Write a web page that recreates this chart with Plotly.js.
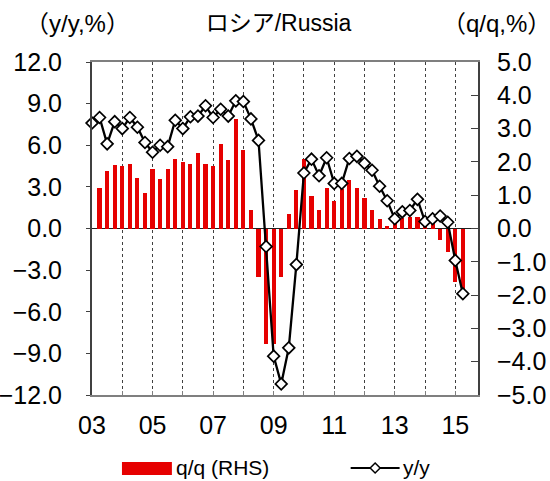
<!DOCTYPE html>
<html>
<head>
<meta charset="utf-8">
<script src="https://cdn.plot.ly/plotly-3.0.1.min.js"></script>
<style>html,body{margin:0;padding:0;background:#fff;}#chart{width:550px;height:481px;}</style>
</head>
<body>
<div id="chart"></div>
<script>
// Quarters on the axis: 2003Q1 .. 2015Q4
const years = [2003,2004,2005,2006,2007,2008,2009,2010,2011,2012,2013,2014,2015];
const quarterNames = ['Q1','Q2','Q3','Q4'];
const quarters = [];
years.forEach(y => quarterNames.forEach(q => quarters.push(y + q)));

// Data quarters 2003Q1 .. 2015Q2
const dataQuarters = quarters.slice(0, 50);

// y/y growth (%), left axis
const yoy = [
  7.6, 8.0, 6.1, 7.7,
  7.2, 8.0, 7.3, 6.2,
  5.5, 6.0, 5.9, 7.8,
  7.2, 8.05, 8.1, 8.85,
  8.0, 8.6, 8.1, 9.2,
  9.15, 7.9, 6.35, -1.3,
  -9.2, -11.2, -8.6, -2.6,
  4.0, 5.0, 3.8, 5.1,
  3.25, 3.25, 5.05, 5.2,
  4.7, 4.2, 3.05, 2.0,
  0.7, 1.2, 1.3, 2.1,
  0.5, 0.7, 0.9, 0.45,
  -2.3, -4.7
];

// q/q growth (%), right axis
const qoq = [
  null, 1.22, 1.74, 1.90,
  1.87, 1.93, 1.53, 1.08,
  1.78, 1.50, 1.79, 2.08,
  1.99, 1.93, 2.28, 1.94,
  1.89, 2.53, 2.06, 3.28,
  2.35, 0.57, -1.47, -3.47,
  -3.47, -1.47, 0.43, 1.17,
  2.10, 0.98, 0.57, 1.22,
  0.83, 1.18, 1.47, 1.22,
  0.93, 0.55, 0.30, 0.07,
  0.30, 0.33, 0.35, 0.34,
  0.12, 0.18, -0.35, -0.72,
  -1.62, -1.9
];

// x tick labels (one gridline per year, label every second year)
const yearTickVals = years.map(y => y + 'Q1');
const yearTickText = ['03','','05','','07','','09','','11','','13','','15'];

const FONT = 'Liberation Sans, Arial, Noto Sans CJK JP, sans-serif';

const traces = [
  {
    type: 'bar', name: 'q/q (RHS)', x: dataQuarters, y: qoq,
    xaxis: 'x', yaxis: 'y',
    marker: {color: '#e60000', line: {width: 0}},
    width: 0.55, showlegend: false, hoverinfo: 'skip'
  },
  {
    type: 'scatter', mode: 'lines+markers', name: 'y/y', x: dataQuarters, y: yoy,
    xaxis: 'x', yaxis: 'y2',
    line: {color: '#000000', width: 2.3},
    marker: {symbol: 'diamond', size: 9, color: '#ffffff', line: {color: '#000000', width: 1.7}},
    showlegend: false, hoverinfo: 'skip', cliponaxis: false
  }
];

// plot area in pixels
const L = 92, R = 478.5, T = 61.7, B = 395;
const PW = R - L, PH = B - T;
const px = v => (v - L) / PW;
const py = v => (B - v) / PH;

const layout = {
  width: 550, height: 481,
  margin: {l: L, r: 550 - R, t: T, b: 481 - B, pad: 0},
  paper_bgcolor: '#ffffff', plot_bgcolor: '#ffffff',
  font: {family: FONT, size: 22, color: '#000000'},
  showlegend: false,
  bargap: 0,
  title: {
    text: 'ロシア/Russia',
    font: {family: FONT, size: 23, color: '#000'},
    xref: 'container', yref: 'container',
    x: 278.5 / 550, y: 1 - 23 / 481, xanchor: 'center', yanchor: 'middle'
  },
  xaxis: {
    type: 'category', categoryorder: 'array', categoryarray: quarters,
    range: [0, 51],
    tickmode: 'array', tickvals: yearTickVals, ticktext: yearTickText,
    ticks: 'inside', ticklen: 4, tickwidth: 1, tickcolor: '#7f7f7f',
    tickfont: {family: FONT, size: 25, color: '#000'},
    ticklabelstandoff: 7,
    showgrid: true, gridcolor: '#404040', griddash: 'dot', gridwidth: 1,
    showline: true, linecolor: '#7f7f7f', linewidth: 2, mirror: true,
    zeroline: false, fixedrange: true
  },
  yaxis: {
    side: 'right', range: [-5, 5], dtick: 1, tick0: 0, tickformat: '.1f',
    ticks: 'inside', ticklen: 7, tickwidth: 1, tickcolor: '#404040',
    tickfont: {family: FONT, size: 25, color: '#000'},
    ticklabelstandoff: 12,
    showgrid: false,
    zeroline: true, zerolinecolor: '#202020', zerolinewidth: 1.5,
    showline: true, linecolor: '#404040', linewidth: 2,
    fixedrange: true
  },
  yaxis2: {
    overlaying: 'y', side: 'left', anchor: 'x',
    range: [-12, 12], dtick: 3, tick0: 0, tickformat: '.1f',
    ticks: 'outside', ticklen: 4, tickwidth: 1, tickcolor: '#404040',
    tickfont: {family: FONT, size: 25, color: '#000'},
    ticklabelstandoff: 19,
    showgrid: false, zeroline: false,
    showline: true, linecolor: '#404040', linewidth: 2,
    fixedrange: true
  },
  annotations: [
    {text: '（y/y,%）', xref: 'paper', yref: 'paper', x: px(77), y: py(23),
     xanchor: 'center', yanchor: 'middle', showarrow: false,
     font: {family: FONT, size: 24, color: '#000'}},
    {text: '（q/q,%）', xref: 'paper', yref: 'paper', x: px(497), y: py(23),
     xanchor: 'center', yanchor: 'middle', showarrow: false,
     font: {family: FONT, size: 24, color: '#000'}},
    {text: 'q/q (RHS)', xref: 'paper', yref: 'paper', x: px(174), y: py(468),
     xanchor: 'left', yanchor: 'middle', showarrow: false,
     font: {family: FONT, size: 21, color: '#000'}},
    {text: 'y/y', xref: 'paper', yref: 'paper', x: px(401), y: py(468),
     xanchor: 'left', yanchor: 'middle', showarrow: false,
     font: {family: FONT, size: 21, color: '#000'}}
  ],
  shapes: [
    {type: 'rect', xref: 'paper', yref: 'paper',
     x0: px(122), x1: px(172), y0: py(462), y1: py(475),
     fillcolor: '#e60000', line: {width: 0}},
    {type: 'line', xref: 'paper', yref: 'paper',
     x0: px(351), x1: px(400), y0: py(468), y1: py(468),
     line: {color: '#000', width: 2}},
    {type: 'path', xref: 'paper', yref: 'paper',
     path: 'M ' + px(375.5) + ' ' + py(463) + ' L ' + px(380.5) + ' ' + py(468) +
           ' L ' + px(375.5) + ' ' + py(473) + ' L ' + px(370.5) + ' ' + py(468) + ' Z',
     fillcolor: '#fff', line: {color: '#000', width: 1.5}}
  ]
};

Plotly.newPlot('chart', traces, layout, {staticPlot: true, displayModeBar: false});
</script>
</body>
</html>
